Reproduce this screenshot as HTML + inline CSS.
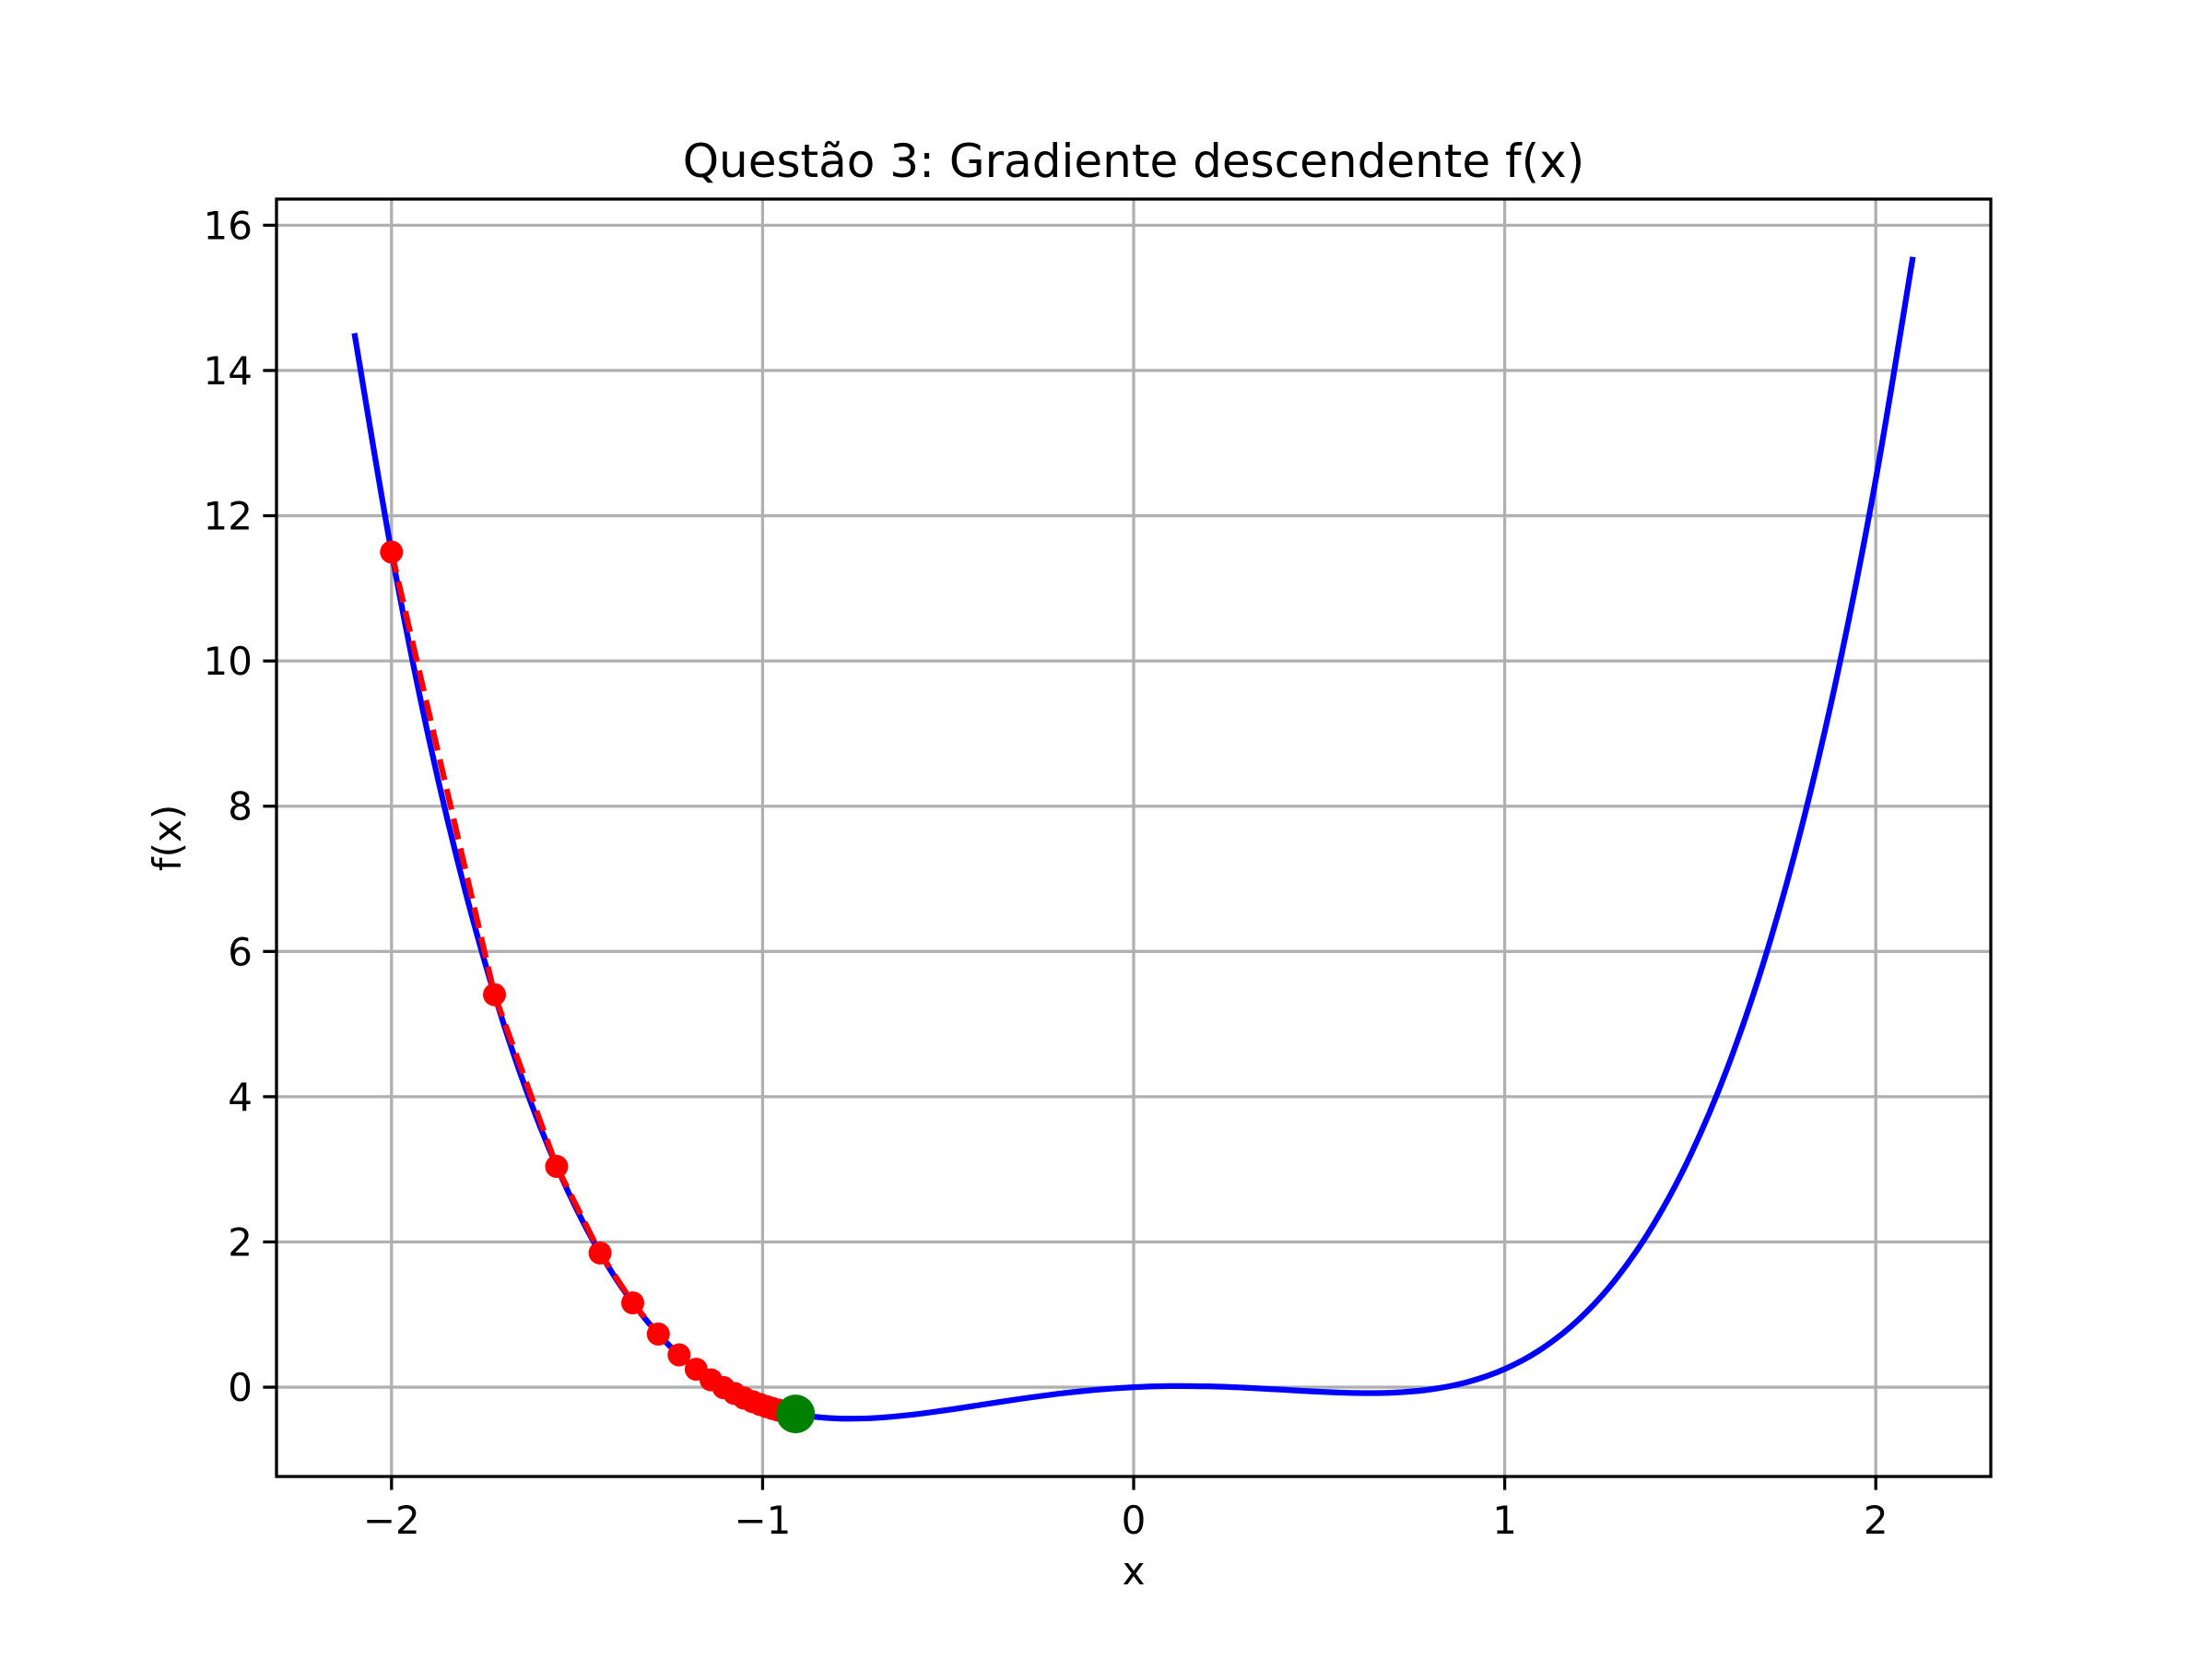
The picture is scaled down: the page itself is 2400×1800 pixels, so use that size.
<!DOCTYPE html>
<html><head><meta charset="utf-8"><style>
html,body{margin:0;padding:0;background:#fff;}
svg{display:block;font-family:"DejaVu Sans","Liberation Sans",sans-serif;}
</style></head><body>
<svg id="chart" width="2400" height="1800" viewBox="0 0 2400 1800" xmlns="http://www.w3.org/2000/svg">
<rect x="0" y="0" width="2400" height="1800" fill="#fff"/>
<g id="grid"></g>
<g id="plot"></g>
<rect x="300" y="216" width="1860" height="1386" fill="none" stroke="#000" stroke-width="3.3"/>
<g id="ticks"></g>
<text x="1230" y="192" font-size="50" text-anchor="middle">Questão 3: Gradiente descendente f(x)</text>
<text x="1230" y="1719" font-size="42" text-anchor="middle">x</text>
<text x="0" y="0" font-size="42" text-anchor="middle" transform="translate(196,909) rotate(-90)">f(x)</text>
</svg>
<script>
const curveX = [-2.1,-2.0,-1.9,-1.8,-1.7,-1.6,-1.5,-1.4,-1.3,-1.2,-1.1,-1.0,-0.9,-0.8,-0.7,-0.6,-0.5,-0.4,-0.3,-0.2,-0.1,0,0.1,0.2,0.3,0.4,0.5,0.6,0.7,0.8,0.9,1.0,1.1,1.2,1.3,1.4,1.5,1.6,1.7,1.8,1.9,2.0,2.1];
const curveY = [14.513,11.5,8.947,6.808,5.037,3.594,2.4375,1.5316,0.8411,0.3336,-0.0209,-0.25,-0.3789,-0.4304,-0.4249,-0.3804,-0.3125,-0.2344,-0.1569,-0.0884,-0.0349,0,0.0151,0.0116,-0.0069,-0.0344,-0.0625,-0.0804,-0.0749,-0.0304,0.0711,0.25,0.5291,0.9336,1.4911,2.2316,3.1875,4.3936,5.8871,7.7076,9.8971,12.5,15.5631];
const stepX = [-2,-1.7225,-1.555,-1.438,-1.350,-1.281,-1.225,-1.179,-1.139,-1.105,-1.076,-1.050,-1.027,-1.007,-0.989,-0.973,-0.958,-0.944,-0.932,-0.921,-0.911];
const stepY = [11.5,5.405,3.040,1.848,1.161,0.732,0.445,0.247,0.101,-0.006,-0.086,-0.150,-0.199,-0.238,-0.268,-0.294,-0.315,-0.333,-0.347,-0.358,-0.369];
const finalX = [-0.911];
const finalY = [-0.369];
const xTicks = [-2,-1,0,1,2];
const xTickLabels = ["\u22122","\u22121","0","1","2"];
const yTicks = [0,2,4,6,8,10,12,14,16];
const yTickLabels = ["0","2","4","6","8","10","12","14","16"];

const NS="http://www.w3.org/2000/svg";
const L=300,R=2160,T=216,B=1602;
const xmin=-2.31,xmax=2.31,ymin=-1.23,ymax=16.36;
function sx(v){return L+(v-xmin)/(xmax-xmin)*(R-L);}
function sy(v){return B-(v-ymin)/(ymax-ymin)*(B-T);}
function mk(tag,attrs,parent){const e=document.createElementNS(NS,tag);for(const k in attrs)e.setAttribute(k,attrs[k]);parent.appendChild(e);return e;}
const grid=document.getElementById('grid'),plot=document.getElementById('plot'),ticks=document.getElementById('ticks');

xTicks.forEach((v,i)=>{
  const g=mk('line',{x1:sx(v),x2:sx(v),y1:T,y2:B,stroke:'#b0b0b0','stroke-width':3.3},grid);
  
  
  const t=mk('line',{x1:sx(v),x2:sx(v),y1:B,y2:B+14.6,stroke:'#000','stroke-width':3.3},ticks);
  
  
  const lb=mk('text',{x:sx(v),y:B+62,'font-size':42,'text-anchor':'middle'},ticks);
  lb.textContent=xTickLabels[i];
  
  
});
yTicks.forEach((v,i)=>{
  const g=mk('line',{x1:L,x2:R,y1:sy(v),y2:sy(v),stroke:'#b0b0b0','stroke-width':3.3},grid);
  
  
  const t=mk('line',{x1:L-14.6,x2:L,y1:sy(v),y2:sy(v),stroke:'#000','stroke-width':3.3},ticks);
  
  
  const lb=mk('text',{x:L-26,y:sy(v)+15,'font-size':42,'text-anchor':'end'},ticks);
  lb.textContent=yTickLabels[i];
  
  
});

const P=curveX.map((x,i)=>[sx(x),sy(curveY[i])]);
let d='M'+P[0][0]+','+P[0][1];
for(let i=0;i<P.length-1;i++){
  const p0=P[Math.max(0,i-1)],p1=P[i],p2=P[i+1],p3=P[Math.min(P.length-1,i+2)];
  const c1=[p1[0]+(p2[0]-p0[0])/6,p1[1]+(p2[1]-p0[1])/6];
  const c2=[p2[0]-(p3[0]-p1[0])/6,p2[1]-(p3[1]-p1[1])/6];
  d+=' C'+c1[0]+','+c1[1]+' '+c2[0]+','+c2[1]+' '+p2[0]+','+p2[1];
}
const curve=mk('path',{d:d,fill:'none',stroke:'#0000ff','stroke-width':6.25},plot);



const path=mk('polyline',{points:stepX.map((x,i)=>sx(x)+','+sy(stepY[i])).join(' '),fill:'none',stroke:'#ff0000','stroke-width':6.25,'stroke-dasharray':'23,10'},plot);


stepX.forEach((x,i)=>{
  const c=mk('circle',{cx:sx(x),cy:sy(stepY[i]),r:12.5,fill:'#ff0000'},plot);
  
  
});
finalX.forEach((x,i)=>{
  const c=mk('circle',{cx:sx(x),cy:sy(finalY[i]),r:21,fill:'#008000'},plot);
  
  
});
</script>
</body></html>
